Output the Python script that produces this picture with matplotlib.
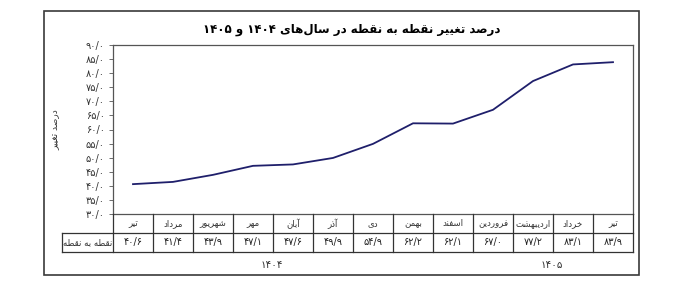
import matplotlib
matplotlib.use("Agg")
import matplotlib.pyplot as plt
from matplotlib.patches import Rectangle

plt.rcParams['font.family'] = ['DejaVu Sans']

# data
months = ["تیر", "مرداد", "شهریور", "مهر", "آبان", "آذر", "دی",
          "بهمن", "اسفند", "فروردین", "اردیبهشت", "خرداد", "تیر"]
values = [40.6, 41.4, 43.9, 47.1, 47.6, 49.9, 54.9, 62.2, 62.1, 67.0, 77.2, 83.1, 83.9]
yticks = [30, 35, 40, 45, 50, 55, 60, 65, 70, 75, 80, 85, 90]
title = "درصد تغییر نقطه به نقطه در سال‌های ۱۴۰۴ و ۱۴۰۵"
ylabel = "درصد تغییر"
row_label = "نقطه به نقطه"
years = ["۱۴۰۴", "۱۴۰۵"]

# small arabic shaper (no arabic_reshaper available)
# letter: (isolated, final, initial, medial) ; two forms -> joins only to the right
FORMS = {
    'ا': (0xFE8D, 0xFE8E), 'آ': (0xFE81, 0xFE82),
    'ب': (0xFE8F, 0xFE90, 0xFE91, 0xFE92), 'ت': (0xFE95, 0xFE96, 0xFE97, 0xFE98),
    'خ': (0xFEA5, 0xFEA6, 0xFEA7, 0xFEA8), 'د': (0xFEA9, 0xFEAA),
    'ذ': (0xFEAB, 0xFEAC), 'ر': (0xFEAD, 0xFEAE),
    'س': (0xFEB1, 0xFEB2, 0xFEB3, 0xFEB4), 'ش': (0xFEB5, 0xFEB6, 0xFEB7, 0xFEB8),
    'ص': (0xFEB9, 0xFEBA, 0xFEBB, 0xFEBC), 'ط': (0xFEC1, 0xFEC2, 0xFEC3, 0xFEC4),
    'غ': (0xFECD, 0xFECE, 0xFECF, 0xFED0), 'ف': (0xFED1, 0xFED2, 0xFED3, 0xFED4),
    'ق': (0xFED5, 0xFED6, 0xFED7, 0xFED8), 'ل': (0xFEDD, 0xFEDE, 0xFEDF, 0xFEE0),
    'م': (0xFEE1, 0xFEE2, 0xFEE3, 0xFEE4), 'ن': (0xFEE5, 0xFEE6, 0xFEE7, 0xFEE8),
    'ه': (0xFEE9, 0xFEEA, 0xFEEB, 0xFEEC), 'و': (0xFEED, 0xFEEE),
    'ی': (0xFEEF, 0xFEF0, 0xFEF3, 0xFEF4),
}


def shape_word(w):
    out = []
    for i, c in enumerate(w):
        if c not in FORMS:
            if c != '\u200c':
                out.append(c)
            continue
        f = FORMS[c]
        prev = w[i - 1] if i > 0 else None
        nxt = w[i + 1] if i + 1 < len(w) else None
        pj = prev in FORMS and len(FORMS[prev]) == 4
        nj = nxt in FORMS and len(f) == 4
        if pj and nj:
            out.append(chr(f[3]))
        elif pj:
            out.append(chr(f[1]))
        elif nj:
            out.append(chr(f[2]))
        else:
            out.append(chr(f[0]))
    return ''.join(out[::-1])


def fa(s):
    words = s.split(' ')
    res = []
    for w in words[::-1]:
        if all(ch in '۰۱۲۳۴۵۶۷۸۹/0123456789' for ch in w):
            res.append(w)
        else:
            res.append(shape_word(w))
    return ' '.join(res)


def fa_num(v):
    s = f"{v:.1f}".replace('.', '/')
    return s.translate(str.maketrans('0123456789', '۰۱۲۳۴۵۶۷۸۹'))


W, H = 681, 288
fig = plt.figure(figsize=(W / 100, H / 100), dpi=100)

def fx(px):
    return px / W

def fy(py):
    return 1 - py / H

# outer frame
fig.patches.append(Rectangle((fx(44), fy(275)), fx(639) - fx(44), fy(11) - fy(275),
                             transform=fig.transFigure, fill=False,
                             edgecolor='#3a3a3a', linewidth=1.2))

L, R, T, B = 113, 633, 45, 214
ax = fig.add_axes([fx(L), fy(B), fx(R) - fx(L), fy(T) - fy(B)])
x = list(range(len(values)))
ax.plot(x, values, color='#1f1f6b', linewidth=1.3)
ax.set_xlim(-0.5, len(values) - 0.5)
ax.set_ylim(30, 90)
ax.set_yticks(yticks)
ax.set_yticklabels([fa_num(v) for v in yticks], fontsize=7, color='#333333')
ax.set_xticks([])
ax.tick_params(axis='y', length=3, width=0.6, color='#555555', pad=3)
for sp in ax.spines.values():
    sp.set_color('#555555')
    sp.set_linewidth(0.9)
ax.set_ylabel(fa(ylabel), fontsize=6.5, labelpad=18, color='#333333')

fig.text(fx(352), fy(29), fa(title), fontsize=8.5, fontweight='bold',
         ha='center', va='center')

# table under the chart
tax = fig.add_axes([fx(L), fy(252), fx(R) - fx(L), fy(B) - fy(252)])
tax.set_xlim(-0.5, len(values) - 0.5)
tax.set_ylim(2, 0)
tax.axis('off')
lab_left = -0.5 - (L - 62) / ((R - L) / len(values))
kw = dict(color='#333333', linewidth=0.9, clip_on=False)
tax.plot([-0.5, len(values) - 0.5], [1, 1], **kw)
tax.plot([lab_left, -0.5], [1, 1], **kw)
tax.plot([lab_left, len(values) - 0.5], [2, 2], **kw)
tax.plot([lab_left, lab_left], [1, 2], **kw)
for i in range(len(values) + 1):
    tax.plot([i - 0.5, i - 0.5], [0, 2], **kw)
for i, (m, v) in enumerate(zip(months, values)):
    tax.text(i, 0.5, fa(m), fontsize=6.2, ha='center', va='center', color='#333333')
    tax.text(i, 1.5, fa_num(v), fontsize=7, ha='center', va='center', color='#222222')
tax.text((lab_left - 0.5) / 2, 1.5, fa(row_label), fontsize=6.2, ha='center', va='center',
         color='#333333', clip_on=False)

fig.text(fx(272), fy(265), years[0], fontsize=7.5, ha='center', va='center', color='#333333')
fig.text(fx(552), fy(265), years[1], fontsize=7.5, ha='center', va='center', color='#333333')

fig.savefig('out.png', dpi=100)
